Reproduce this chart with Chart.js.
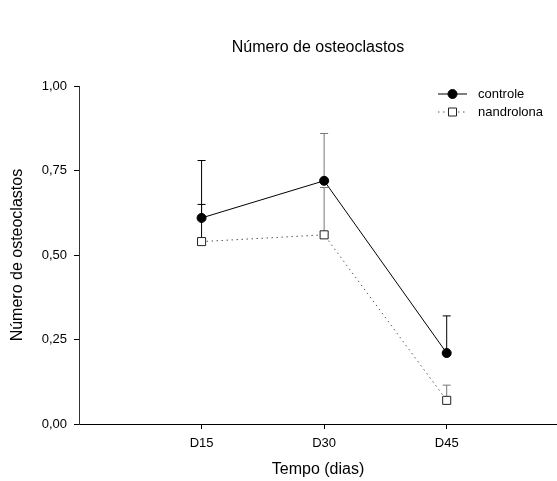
<!DOCTYPE html>
<html>
<head>
<meta charset="utf-8">
<script src="https://cdn.jsdelivr.net/npm/chart.js@4"></script>
<style>
  body { margin: 0; background: #fff; }
  canvas { display: block; }
</style>
</head>
<body>
<canvas id="chart" width="557" height="481"></canvas>
<script>
const categories = ['D15', 'D30', 'D45'];
const controle = [0.61, 0.72, 0.21];
const controleErr = [0.17, 0.14, 0.11];
const nandrolona = [0.54, 0.56, 0.07];
const nandrolonaErr = [0.11, 0.14, 0.045];
const yTicks = [0, 0.25, 0.5, 0.75, 1];

Chart.defaults.font.family = '"Liberation Sans", Arial, sans-serif';
Chart.defaults.color = '#000';

function points(values) {
  return values.map((v, i) => ({ x: i + 1, y: v }));
}

// upper error bars only, sigmaplot style
const errorBars = {
  id: 'errorBars',
  beforeDatasetsDraw(chart) {
    const ctx = chart.ctx;
    const yScale = chart.scales.y;
    const xScale = chart.scales.x;
    chart.data.datasets.forEach((ds) => {
      ds.errors.forEach((err, i) => {
        const x = xScale.getPixelForValue(i + 1);
        const y0 = yScale.getPixelForValue(ds.data[i].y);
        const y1 = yScale.getPixelForValue(ds.data[i].y + err);
        ctx.save();
        ctx.strokeStyle = ds.errorColors[i];
        ctx.lineWidth = 1;
        ctx.beginPath();
        ctx.moveTo(x, y0);
        ctx.lineTo(x, y1);
        ctx.moveTo(x - 4, y1);
        ctx.lineTo(x + 4, y1);
        ctx.stroke();
        ctx.restore();
      });
    });
  },
};

// legend with line + marker sample
const lineLegend = {
  id: 'lineLegend',
  afterDraw(chart) {
    const ctx = chart.ctx;
    chart.data.datasets.forEach((ds, i) => {
      const y = 94 + i * 18;
      ctx.save();
      ctx.strokeStyle = ds.borderColor;
      ctx.lineWidth = 1;
      ctx.setLineDash(ds.borderDash || []);
      ctx.beginPath();
      ctx.moveTo(438, y);
      ctx.lineTo(467, y);
      ctx.stroke();
      ctx.setLineDash([]);
      ctx.fillStyle = ds.pointBackgroundColor;
      ctx.strokeStyle = ds.pointBorderColor;
      ctx.beginPath();
      if (ds.pointStyle === 'rect') {
        ctx.rect(448.5, y - 4, 8, 8);
      } else {
        ctx.arc(452.5, y, ds.pointRadius, 0, Math.PI * 2);
      }
      ctx.fill();
      ctx.stroke();
      ctx.fillStyle = '#000';
      ctx.font = '13px "Liberation Sans", Arial, sans-serif';
      ctx.textBaseline = 'middle';
      ctx.fillText(ds.label, 478, y);
      ctx.restore();
    });
  },
};

new Chart(document.getElementById('chart'), {
  type: 'line',
  data: {
    datasets: [
      {
        label: 'controle',
        data: points(controle),
        errors: controleErr,
        errorColors: ['#000', '#777', '#000'],
        borderColor: '#000',
        borderWidth: 1,
        pointStyle: 'circle',
        pointRadius: 4.5,
        pointBackgroundColor: '#000',
        pointBorderColor: '#000',
        pointBorderWidth: 1,
      },
      {
        label: 'nandrolona',
        data: points(nandrolona),
        errors: nandrolonaErr,
        errorColors: ['#000', '#777', '#777'],
        borderColor: '#555',
        borderWidth: 1,
        borderDash: [1.5, 3.5],
        pointStyle: 'rect',
        pointRadius: 5.7,
        pointBackgroundColor: '#fff',
        pointBorderColor: '#222',
        pointBorderWidth: 1,
      },
    ],
  },
  options: {
    responsive: false,
    animation: false,
    layout: { autoPadding: false, padding: 0 },
    plugins: {
      legend: { display: false },
      tooltip: { enabled: false },
      title: {
        display: true,
        fullSize: false,
        text: 'Número de osteoclastos',
        font: { size: 16, weight: 'normal' },
        padding: { top: 38, bottom: 29 },
      },
    },
    scales: {
      x: {
        type: 'linear',
        min: 0,
        max: 3.9,
        afterBuildTicks: (scale) => {
          scale.ticks = categories.map((c, i) => ({ value: i + 1 }));
        },
        afterFit: (scale) => {
          scale.height = 57;
          scale.paddingLeft = 0;
          scale.paddingRight = 0;
        },
        ticks: {
          callback: (v) => categories[v - 1],
          font: { size: 13 },
          padding: 7,
          maxRotation: 0,
        },
        grid: { drawOnChartArea: false, drawTicks: true, tickLength: 5, color: '#000' },
        border: { display: true, color: '#000', width: 1 },
        title: {
          display: true,
          text: 'Tempo (dias)',
          font: { size: 16 },
          padding: { top: 0, bottom: 2 },
        },
      },
      y: {
        min: 0,
        max: 1,
        afterBuildTicks: (scale) => {
          scale.ticks = yTicks.map((v) => ({ value: v }));
        },
        afterFit: (scale) => { scale.width = 79; },
        ticks: {
          callback: (v) => v.toFixed(2).replace('.', ','),
          font: { size: 13 },
          padding: 7,
        },
        grid: { drawOnChartArea: false, drawTicks: true, tickLength: 5, color: '#000' },
        border: { display: true, color: '#333', width: 1 },
        title: {
          display: true,
          text: 'Número de osteoclastos',
          font: { size: 16 },
          padding: { top: 8, bottom: 0 },
        },
      },
    },
  },
  plugins: [errorBars, lineLegend],
});
</script>
</body>
</html>
